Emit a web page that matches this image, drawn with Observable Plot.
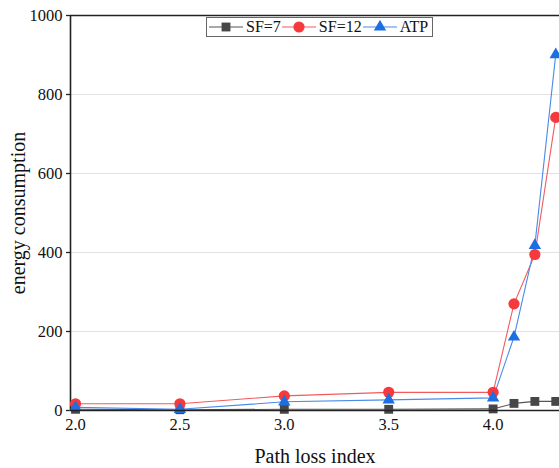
<!DOCTYPE html>
<html>
<head>
<meta charset="utf-8">
<script src="https://cdn.jsdelivr.net/npm/d3@7"></script>
<script src="https://cdn.jsdelivr.net/npm/@observablehq/plot@0.6"></script>
<style>
  html, body { margin: 0; padding: 0; background: #fff; }
  #wrap { position: relative; width: 559px; height: 468px; overflow: hidden; font-family: "Liberation Serif", "Times New Roman", serif; }
  #wrap svg text { font-family: "Liberation Serif", "Times New Roman", serif !important; }
  #legend { position: absolute; left: 206px; top: 17px; height: 20px; border: 1px solid #666; background: #fff;
    display: flex; align-items: center; font-size: 16px; padding: 0 3px 0 2px; box-sizing: border-box; color: #111; }
  #legend .item { display: flex; align-items: center; margin-right: 1px; }
  #legend svg { display: block; margin-right: 3px; }
</style>
</head>
<body>
<div id="wrap"><div id="legend"></div></div>
<script>
const pathLoss = [2.0, 2.5, 3.0, 3.5, 4.0, 4.1, 4.2, 4.3];
const sf7  = [3, 2, 3, 3, 4, 18, 23, 23];
const sf12 = [17, 17, 37, 46, 46, 270, 395, 742];
const atp  = [8, 3, 22, 27, 32, 186, 418, 901];
const xTicks = [2.0, 2.5, 3.0, 3.5, 4.0];
const yTicks = [0, 200, 400, 600, 800, 1000];
const xDomain = [1.976, 4.318];
const yDomain = [0, 1000];

const series = [
  {name: "SF=7",  values: sf7,  fill: "#474747", stroke: "#555555", symbol: "square",   r: 5},
  {name: "SF=12", values: sf12, fill: "#f5393c", stroke: "#f25a5c", symbol: "circle",   r: 5.6},
  {name: "ATP",   values: atp,  fill: "#1c6fe3", stroke: "#4a8ae8", symbol: "triangle", r: 4.6}
];
const rows = series.flatMap(s => pathLoss.map((x, i) => ({x, y: s.values[i], name: s.name})));

const marks = [
  Plot.gridY(yTicks.slice(1, -1), {stroke: "#e2e2e2", strokeOpacity: 1, strokeWidth: 1}),
  Plot.ruleY([yDomain[1]], {stroke: "#222", strokeWidth: 1.6}),
  Plot.ruleX([xDomain[0]], {stroke: "#222", strokeWidth: 1.6})
];
for (const s of series) {
  const d = rows.filter(r => r.name === s.name);
  marks.push(Plot.line(d, {x: "x", y: "y", stroke: s.stroke, strokeWidth: 1.1}));
}
for (const s of series) {
  const d = rows.filter(r => r.name === s.name);
  marks.push(Plot.dot(d, {x: "x", y: "y", fill: s.fill, symbol: s.symbol, r: s.r, stroke: "none"}));
}
marks.push(Plot.ruleY([0], {stroke: "#222", strokeWidth: 1.6}));

const chart = Plot.plot({
  width: 559,
  height: 468,
  marginLeft: 70,
  marginRight: 0,
  marginTop: 15,
  marginBottom: 58,
  style: {fontFamily: "'Liberation Serif', 'Times New Roman', serif", fontSize: "16px", color: "#111", background: "#fff"},
  x: {domain: xDomain, ticks: xTicks, tickFormat: d3.format(".1f"), tickSize: 0, tickPadding: 8,
      label: "Path loss index", labelAnchor: "center", labelArrow: "none", labelOffset: 52},
  y: {domain: yDomain, ticks: yTicks, tickFormat: d3.format("d"), tickSize: 4, tickPadding: 4,
      label: "energy consumption", labelAnchor: "center", labelArrow: "none", labelOffset: 60},
  marks
});
const svg = d3.select(chart);
svg.selectAll("text").attr("font-family", "'Liberation Serif', 'Times New Roman', serif");
svg.selectAll("[aria-label='x-axis tick label'] text, [aria-label='y-axis tick label'] text").style("font-size", "16.5px").attr("fill", "#111");
svg.selectAll("[aria-label='x-axis label'] text, [aria-label='y-axis label'] text").style("font-size", "20px").attr("fill", "#111");
svg.selectAll("[aria-label='y-axis tick'] path").attr("stroke", "#222").attr("stroke-width", 1.3);
document.getElementById("wrap").prepend(chart);

const legend = d3.select("#legend");
for (const s of series) {
  const item = legend.append("div").attr("class", "item");
  const sv = item.append("svg").attr("width", 34).attr("height", 14);
  sv.append("line").attr("x1", 0).attr("x2", 34).attr("y1", 7).attr("y2", 7).attr("stroke", s.stroke).attr("stroke-width", 1.1);
  const sym = {square: d3.symbolSquare, circle: d3.symbolCircle, triangle: d3.symbolTriangle}[s.symbol];
  sv.append("path").attr("d", d3.symbol(sym, Math.PI * s.r * s.r)()).attr("transform", "translate(17,7)").attr("fill", s.fill);
  item.append("span").text(s.name);
}
</script>
</body>
</html>
